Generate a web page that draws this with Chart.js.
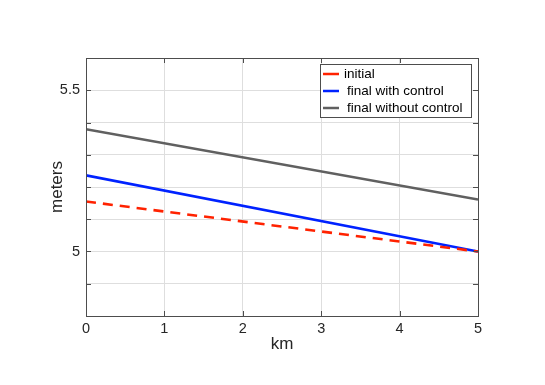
<!DOCTYPE html>
<html>
<head>
<meta charset="utf-8">
<script src="https://cdn.jsdelivr.net/npm/chart.js@4/dist/chart.umd.min.js"></script>
<style>
  html, body { margin: 0; padding: 0; background: #fff; }
  #wrap { width: 545px; height: 385px; }
</style>
</head>
<body>
<div id="wrap"><canvas id="c" width="545" height="385"></canvas></div>
<script>
// distance along the reach (km)
const km = [0, 5];
// water levels (m) read at each end
const initial = [5.155, 5.0];
const finalWithControl = [5.236, 5.0];
const finalWithoutControl = [5.379, 5.161];
const seriesNames = ['initial', 'final with control', 'final without control'];
const xTicks = [0, 1, 2, 3, 4, 5];
const yLabels = [5, 5.5];

const textColor = '#262626';
const font = 'Helvetica, Arial, "Liberation Sans", sans-serif';

function pts(ys) {
  return km.map((x, i) => ({x, y: ys[i]}));
}

// MATLAB-ish box with inward ticks + legend inside the top right corner
const boxPlugin = {
  id: 'box',
  afterDraw(chart) {
    const {ctx, chartArea: a, scales} = chart;
    ctx.save();
    ctx.strokeStyle = '#4d4d4d';
    ctx.lineWidth = 1;
    ctx.strokeRect(a.left + 0.5, a.top + 0.5, a.right - a.left, a.bottom - a.top);
    ctx.beginPath();
    scales.y.ticks.forEach(t => {
      const y = Math.round(scales.y.getPixelForValue(t.value)) + 0.5;
      ctx.moveTo(a.left, y); ctx.lineTo(a.left + 5, y);
      ctx.moveTo(a.right, y); ctx.lineTo(a.right - 5, y);
    });
    scales.x.ticks.forEach(t => {
      const x = Math.round(scales.x.getPixelForValue(t.value)) + 0.5;
      ctx.moveTo(x, a.bottom); ctx.lineTo(x, a.bottom - 5);
      ctx.moveTo(x, a.top); ctx.lineTo(x, a.top + 5);
    });
    ctx.stroke();

    // legend
    const lx = 320, ly = 64, lw = 151, lh = 53;
    ctx.fillStyle = '#fff';
    ctx.fillRect(lx, ly, lw, lh);
    ctx.strokeStyle = '#4d4d4d';
    ctx.strokeRect(lx + 0.5, ly + 0.5, lw, lh);
    ctx.font = '13.5px ' + font;
    ctx.textBaseline = 'middle';
    chart.data.datasets.forEach((ds, i) => {
      const y = ly + 10 + i * 17;
      ctx.strokeStyle = ds.borderColor;
      ctx.lineWidth = 2.5;
      ctx.beginPath();
      ctx.moveTo(lx + 3, y); ctx.lineTo(lx + 19, y);
      ctx.stroke();
      ctx.fillStyle = '#000';
      ctx.fillText(ds.label, lx + (i === 0 ? 24 : 27), y);
    });
    ctx.restore();
  }
};

const ctx = document.getElementById('c').getContext('2d');
new Chart(ctx, {
  type: 'line',
  data: {
    datasets: [
      {label: seriesNames[0], data: pts(initial), borderColor: '#ff2200', borderDash: [10, 7], borderWidth: 2.6, pointRadius: 0, fill: false},
      {label: seriesNames[1], data: pts(finalWithControl), borderColor: '#0022ff', borderWidth: 2.6, pointRadius: 0, fill: false},
      {label: seriesNames[2], data: pts(finalWithoutControl), borderColor: '#606060', borderWidth: 2.6, pointRadius: 0, fill: false},
    ]
  },
  options: {
    responsive: false,
    animation: false,
    layout: {padding: {top: 58, right: 67, left: 47, bottom: 30}},
    plugins: {legend: {display: false}, tooltip: {enabled: false}},
    scales: {
      x: {
        type: 'linear',
        min: 0, max: 5,
        afterBuildTicks: s => { s.ticks = xTicks.map(v => ({value: v})); },
        afterFit: s => { s.height = 39; },
        grid: {color: '#dedede', drawTicks: false},
        border: {display: false},
        ticks: {color: textColor, font: {size: 14.5, family: font}, padding: 4},
        title: {display: true, text: 'km', color: textColor, font: {size: 17, family: font}, padding: 0}
      },
      y: {
        type: 'linear',
        min: 4.8, max: 5.6,
        ticks: {
          stepSize: 0.1,
          color: textColor,
          font: {size: 14.5, family: font},
          padding: 6,
          callback: v => yLabels.some(l => Math.abs(l - v) < 1e-6) ? String(+v.toFixed(1)) : ''
        },
        afterFit: s => { s.width = 39; },
        grid: {color: '#dedede', drawTicks: false},
        border: {display: false},
        title: {display: true, text: 'meters', color: textColor, font: {size: 17, family: font}, padding: 0}
      }
    }
  },
  plugins: [boxPlugin]
});
</script>
</body>
</html>
